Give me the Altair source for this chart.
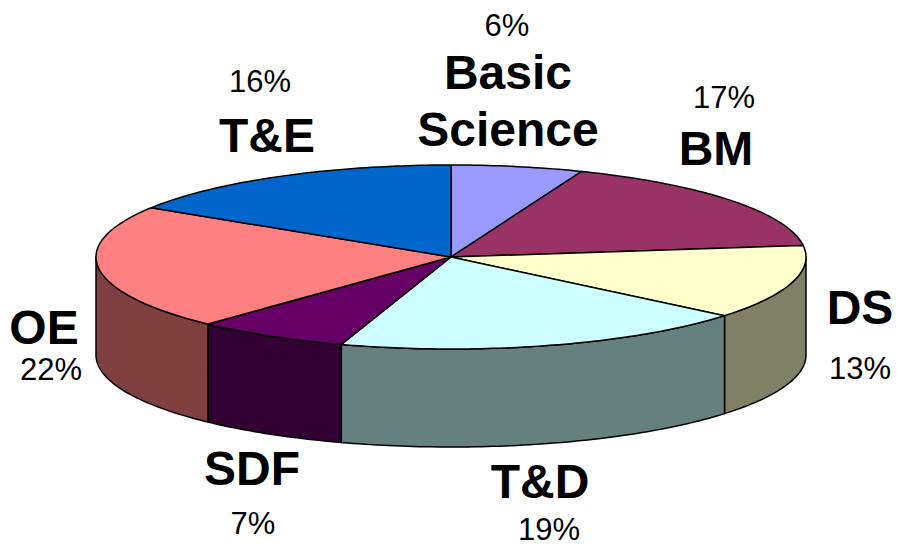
import math
import altair as alt

# Slices, clockwise from twelve o'clock
names = ["Basic Science", "BM", "DS", "T&D", "SDF", "OE", "T&E"]
shares = [6, 17, 13, 19, 7, 22, 16]
top_colors = ["#9999FF", "#993366", "#FFFFCC", "#CCFFFF", "#660066", "#FF8080", "#0066CC"]
side_colors = ["#4D4D80", "#4D1A33", "#808066", "#668080", "#330033", "#804040", "#003366"]

# Pie shape, relative to the radius
TILT = 92 / 355
DEPTH = 98 / 355


def point(deg, drop=0.0):
    a = math.radians(deg)
    return [math.sin(a), -TILT * math.cos(a) + drop]


def arc(start, end, drop=0.0):
    n = max(2, int(abs(end - start)) + 1)
    return [point(start + (end - start) * i / n, drop) for i in range(n + 1)]


def feature(ring, fill, name):
    return {
        "type": "Feature",
        "properties": {"fill": fill, "name": name},
        "geometry": {"type": "Polygon", "coordinates": [ring + [ring[0]]]},
    }


tops, sides = [], []
start = 0.0
for name, share, top, side in zip(names, shares, top_colors, side_colors):
    end = start + share * 3.6
    tops.append(feature([[0.0, 0.0]] + arc(start, end), top, name))
    s, e = max(start, 90.0), min(end, 270.0)
    if e > s:
        sides.append(feature(arc(s, e) + arc(e, s, DEPTH), side, name))
    start = end


def shapes(features):
    return (
        alt.Chart(
            alt.InlineData(
                values={"type": "FeatureCollection", "features": features},
                format=alt.DataFormat(property="features", type="json"),
            )
        )
        .mark_geoshape(stroke="black", strokeWidth=1.5, strokeJoin="round")
        .encode(fill=alt.Fill("properties.fill:N", scale=None))
        .project(type="identity", scale=355, translate=[443, 249])
    )


def label(text, x, y, bold):
    return (
        alt.Chart(alt.InlineData(values=[{"t": text}]))
        .mark_text(
            font="Liberation Sans",
            fontSize=48 if bold else 31,
            fontWeight="bold" if bold else "normal",
            align="center",
            baseline="alphabetic",
            color="black",
        )
        .encode(text="t:N", x=alt.value(x - 8), y=alt.value(y - 8))
    )


labels = [
    ("6%", 507, 36, False),
    ("Basic", 508, 89, True),
    ("Science", 508, 146, True),
    ("17%", 724, 108, False),
    ("BM", 716, 165, True),
    ("DS", 860, 324, True),
    ("13%", 860, 379, False),
    ("T&D", 540, 498, True),
    ("19%", 549, 540, False),
    ("SDF", 252, 485, True),
    ("7%", 253, 534, False),
    ("OE", 44, 344, True),
    ("22%", 51, 380, False),
    ("T&E", 267, 152, True),
    ("16%", 260, 92, False),
]

chart = (
    alt.layer(shapes(sides), shapes(tops), *[label(*l) for l in labels])
    .properties(width=885, height=539, padding=0, autosize=alt.AutoSizeParams(type="none"))
    .configure_view(stroke=None)
)

chart.save("out.html", embed_options={"renderer": "svg", "actions": False})
